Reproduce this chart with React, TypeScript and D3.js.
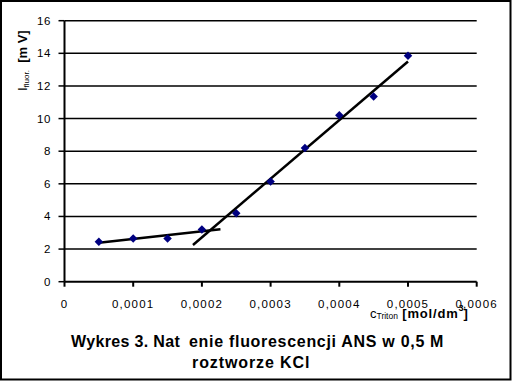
import React from "react";
import * as d3 from "d3";

const concentrations = [0.00005, 0.0001, 0.00015, 0.0002, 0.00025, 0.0003, 0.00035, 0.0004, 0.00045, 0.0005];
const intensities = [2.45, 2.65, 2.65, 3.2, 4.2, 6.15, 8.2, 10.2, 11.35, 13.85];
const trendLow: [number, number][] = [[0.00005, 2.39], [0.000227, 3.22]];
const trendHigh: [number, number][] = [[0.000187, 2.25], [0.0005, 13.5]];
const xTicks = [0, 0.0001, 0.0002, 0.0003, 0.0004, 0.0005, 0.0006];
const xTickLabels = ["0", "0,0001", "0,0002", "0,0003", "0,0004", "0,0005", "0,0006"];
const yTicks = [0, 2, 4, 6, 8, 10, 12, 14, 16];

const W = 512;
const H = 381;
const FONT = "'Liberation Sans', Arial, sans-serif";

export default function App() {
  const x = d3.scaleLinear().domain([0, 0.0006]).range([64.5, 476.7]);
  const y = d3.scaleLinear().domain([0, 16]).range([281.7, 20.7]);
  const line = d3.line<[number, number]>().x(d => x(d[0])).y(d => y(d[1]));
  const diamondType = (d3 as any).symbolDiamond2 || d3.symbolSquare;
  const diamond = d3.symbol().type(diamondType).size(46)();
  const rot = (d3 as any).symbolDiamond2 ? "" : " rotate(45)";

  return (
    <svg width={W} height={H} style={{ position: "absolute", left: 0, top: 0, background: "#fff" }} fontFamily={FONT}>
      <rect x={0} y={0} width={W} height={H} fill="#fff" />
      <rect x={1} y={1} width={509.5} height={378.5} fill="none" stroke="#000" strokeWidth={2} />
      {/* gridlines */}
      {yTicks.filter(t => t > 0).map(t => (
        <line key={"g" + t} x1={x(0)} x2={x(0.0006)} y1={y(t)} y2={y(t)} stroke="#000" strokeWidth={1.5} />
      ))}
      {/* y axis */}
      <line x1={x(0)} x2={x(0)} y1={y(16)} y2={y(0)} stroke="#000" strokeWidth={2} />
      {yTicks.map(t => (
        <g key={"y" + t}>
          <line x1={x(0) - 6} x2={x(0)} y1={y(t)} y2={y(t)} stroke="#000" strokeWidth={1.5} />
          <text x={51} y={y(t) + 4} textAnchor="end" fontSize={11.5} letterSpacing={0.6}>{t}</text>
        </g>
      ))}
      {/* x axis */}
      <line x1={x(0)} x2={x(0.0006)} y1={y(0)} y2={y(0)} stroke="#000" strokeWidth={2} />
      {xTicks.map((t, i) => (
        <g key={"x" + t}>
          <line x1={x(t)} x2={x(t)} y1={y(0)} y2={y(0) + 5} stroke="#000" strokeWidth={2} />
          <text x={x(t)} y={307.5} textAnchor="middle" fontSize={11.5} letterSpacing={1.2}>{xTickLabels[i]}</text>
        </g>
      ))}
      {/* trend lines */}
      <path d={line(trendLow) || ""} fill="none" stroke="#000" strokeWidth={2.5} />
      <path d={line(trendHigh) || ""} fill="none" stroke="#000" strokeWidth={2.5} />
      {/* markers */}
      {concentrations.map((c, i) => (
        <path key={"m" + i} d={diamond || ""} transform={`translate(${x(c)},${y(intensities[i])})${rot}`} fill="#000080" />
      ))}
      {/* y axis title */}
      <text transform="translate(27,91) rotate(-90)" fontSize={13} fontWeight="bold">
        <tspan fontWeight="normal">I</tspan>
        <tspan fontSize={8} fontWeight="normal" dy={2}>fluor.</tspan>
        <tspan dy={-2}>{"\u00a0\u00a0[m V]"}</tspan>
      </text>
      {/* x axis title */}
      <text x={370} y={317.5} fontSize={13}>
        <tspan>c</tspan>
        <tspan fontSize={8.5} dy={1}>Triton</tspan>
        <tspan fontWeight="bold" dy={-1} letterSpacing={0.8}>{"\u00a0[mol/dm"}</tspan>
        <tspan fontWeight="bold" fontSize={9} dy={-7}>3</tspan>
        <tspan fontWeight="bold" dy={7}>]</tspan>
      </text>
      {/* caption */}
      <text y={347} fontSize={16} fontWeight="bold">
        <tspan x={71} letterSpacing={0.35}>Wykres 3. Nat</tspan>
        <tspan x={189} letterSpacing={0.7}>enie fluorescencji ANS w 0,5 M</tspan>
      </text>
      <text x={192} y={368} fontSize={16} fontWeight="bold" letterSpacing={0.9}>roztworze KCl</text>
    </svg>
  );
}
